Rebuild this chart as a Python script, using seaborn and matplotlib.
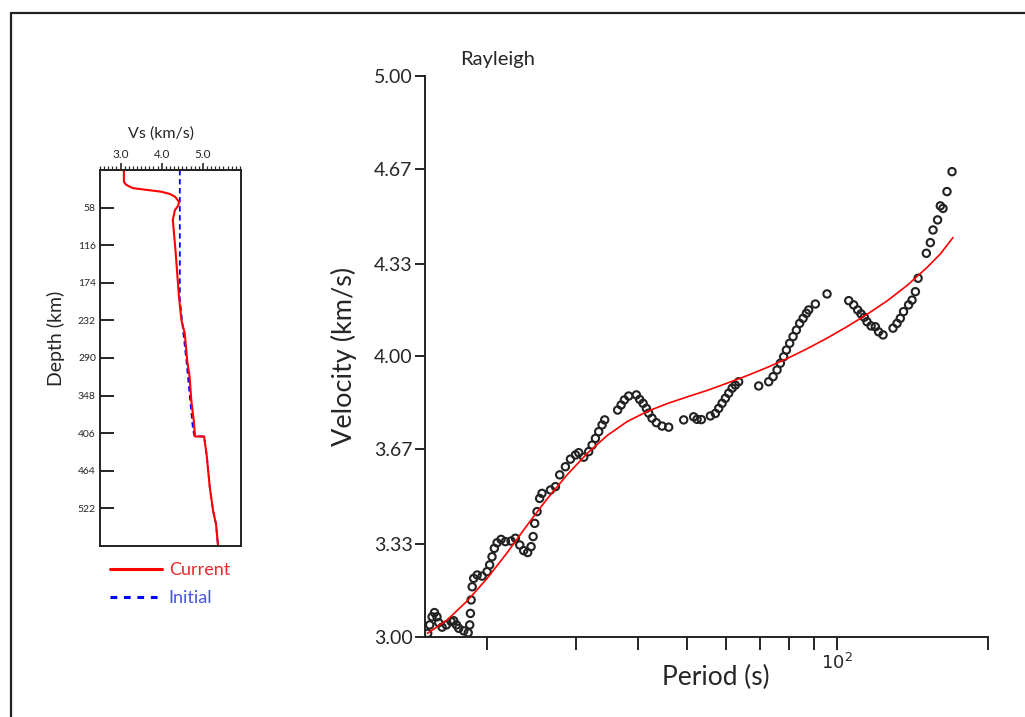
import numpy as np
import pandas as pd
import matplotlib
matplotlib.use("Agg")
import matplotlib.pyplot as plt
from matplotlib.lines import Line2D
import seaborn as sns

# observed Rayleigh dispersion (period s, group velocity km/s)
obs_period = [15.19, 15.33, 15.50, 15.67, 15.85, 15.98, 16.23, 16.55, 16.92, 17.12,
              17.34, 17.52, 17.93, 18.30, 18.43, 18.49, 18.55, 18.64, 18.77, 19.07,
              19.51, 19.96, 20.20, 20.42, 20.64, 20.90, 21.29, 21.72, 22.29, 22.74,
              23.20, 23.62, 24.06, 24.44, 24.67, 24.85, 25.12, 25.42, 25.70, 26.72,
              27.34, 27.88, 28.62, 29.29, 29.98, 30.43, 31.14, 31.86, 32.36, 32.86,
              33.36, 33.88, 34.29, 36.40, 36.98, 37.54, 38.29, 39.67, 40.28, 40.92,
              41.54, 41.99, 42.64, 43.49, 44.65, 46.03, 49.32, 51.63, 52.45, 53.50,
              55.76, 57.06, 57.94, 58.85, 59.75, 60.67, 61.63, 62.55, 63.51, 69.64,
              72.92, 74.41, 75.78, 76.94, 78.12, 79.10, 80.31, 81.57, 82.82, 84.09,
              85.42, 86.72, 87.64, 90.38, 95.37, 105.4, 107.8, 109.8, 111.5, 113.2,
              114.6, 116.8, 119.1, 120.9, 123.4, 129.2, 131.6, 133.6, 135.6, 138.8,
              141.0, 143.2, 145.0, 150.6, 153.4, 155.3, 158.6, 160.6, 162.6, 165.6,
              169.5]
obs_velocity = [3.013, 3.043, 3.072, 3.087, 3.072, 3.051, 3.035, 3.043, 3.055, 3.058,
                3.043, 3.031, 3.022, 3.015, 3.043, 3.084, 3.132, 3.179, 3.209, 3.221,
                3.217, 3.233, 3.257, 3.286, 3.316, 3.336, 3.348, 3.340, 3.342, 3.352,
                3.328, 3.308, 3.301, 3.322, 3.358, 3.405, 3.447, 3.494, 3.512, 3.524,
                3.536, 3.578, 3.607, 3.634, 3.649, 3.657, 3.641, 3.661, 3.684, 3.708,
                3.732, 3.756, 3.774, 3.809, 3.827, 3.845, 3.859, 3.863, 3.847, 3.833,
                3.815, 3.798, 3.780, 3.764, 3.752, 3.748, 3.774, 3.785, 3.776, 3.775,
                3.788, 3.797, 3.815, 3.833, 3.851, 3.869, 3.887, 3.898, 3.910, 3.895,
                3.910, 3.928, 3.952, 3.976, 3.999, 4.023, 4.047, 4.071, 4.094, 4.118,
                4.136, 4.154, 4.166, 4.187, 4.223, 4.199, 4.184, 4.166, 4.152, 4.140,
                4.124, 4.109, 4.106, 4.088, 4.077, 4.101, 4.118, 4.136, 4.160, 4.184,
                4.201, 4.231, 4.279, 4.368, 4.406, 4.451, 4.487, 4.537, 4.528, 4.588,
                4.659]

# predicted dispersion of the current model
fit_period = [15.17, 16.60, 18.20, 19.95, 21.88, 23.99, 26.30, 28.84, 31.62, 34.67,
              38.02, 41.69, 45.71, 50.12, 54.95, 60.26, 66.07, 72.44, 79.43, 87.10,
              95.50, 104.7, 114.8, 125.9, 138.0, 151.4, 160.7, 170.2]
fit_velocity = [3.013, 3.060, 3.128, 3.208, 3.300, 3.398, 3.492, 3.578, 3.654, 3.718,
                3.768, 3.804, 3.832, 3.856, 3.879, 3.905, 3.932, 3.961, 3.993, 4.028,
                4.066, 4.107, 4.151, 4.199, 4.254, 4.319, 4.366, 4.424]

# shear velocity profiles
cur_depth = [0, 18, 22, 25, 28, 30, 33.5, 37, 41, 45, 49, 55, 62, 77, 128, 196, 232,
             252, 294, 320, 356, 387, 411, 411, 438, 490, 526, 546, 580]
cur_vs = [3.08, 3.08, 3.12, 3.20, 3.30, 3.55, 3.99, 4.20, 4.32, 4.37, 4.42, 4.40, 4.32,
          4.27, 4.34, 4.42, 4.48, 4.56, 4.62, 4.68, 4.72, 4.78, 4.81, 5.03, 5.09, 5.17,
          5.25, 5.32, 5.37]
init_depth = [0, 200, 300, 400, 411, 411, 438, 490, 526, 546, 580]
init_vs = [4.44, 4.44, 4.61, 4.76, 4.80, 5.03, 5.09, 5.17, 5.25, 5.32, 5.37]

depth_ticks = [58, 116, 174, 232, 290, 348, 406, 464, 522]
vel_ticks = [3.00, 3.33, 3.67, 4.00, 4.33, 4.67, 5.00]
period_ticks = [20, 30, 40, 50, 60, 70, 80, 90, 100, 200]

sns.set_style("ticks")
plt.rcParams['font.family'] = ['Lato', 'DejaVu Sans']
plt.rcParams['axes.linewidth'] = 1.4
plt.rcParams['axes.edgecolor'] = '#222222'

fig = plt.figure(figsize=(10.25, 7.17), dpi=100)

###############################################################################
# Vs profile
###############################################################################
ax1 = fig.add_axes([0.0976, 0.2385, 0.1376, 0.5244])
prof_init = pd.DataFrame({'vs': init_vs, 'depth': init_depth})
prof_cur = pd.DataFrame({'vs': cur_vs, 'depth': cur_depth})
sns.lineplot(data=prof_init, x='vs', y='depth', sort=False, estimator=None,
             color='blue', linestyle=(0, (3, 2)), linewidth=1.3, ax=ax1, label='Initial')
sns.lineplot(data=prof_cur, x='vs', y='depth', sort=False, estimator=None,
             color='red', linewidth=1.5, ax=ax1, label='Current')
ax1.set_xlim(2.5, 5.93)
ax1.set_ylim(580, 0)
ax1.xaxis.tick_top()
ax1.xaxis.set_label_position('top')
ax1.set_xticks([3.0, 4.0, 5.0], labels=['3.0', '4.0', '5.0'])
ax1.set_xticks(np.arange(2.5, 5.95, 0.1), minor=True)
ax1.tick_params(axis='x', which='major', direction='out', length=5, width=1.2,
                labelsize=8.5, pad=2)
ax1.tick_params(axis='x', which='minor', direction='out', length=3, width=0.9)
ax1.set_yticks(depth_ticks, labels=[str(d) for d in depth_ticks])
ax1.tick_params(axis='y', direction='in', length=10, width=1.4, labelsize=7.5, pad=3)
ax1.set_xlabel('Vs (km/s)', fontsize=11.5)
ax1.set_ylabel('Depth (km)', fontsize=14)
ax1.xaxis.set_label_coords(0.433, 1.087)
ax1.yaxis.set_label_coords(-0.25, 0.553)
for s in ax1.spines.values():
    s.set_visible(True)
ax1.get_legend().remove()
handles = [Line2D([], [], color='red', linewidth=2.2),
           Line2D([], [], color='blue', linewidth=2.2, linestyle=(0, (2.2, 2.2)))]
fig.legend(handles, ['Current', 'Initial'], loc='upper left',
           bbox_to_anchor=(0.1073, 0.216), frameon=False, fontsize=13,
           labelcolor=['#e8282c', '#4455dd'], handlelength=2.9, handletextpad=0.35,
           borderpad=0, borderaxespad=0, labelspacing=0.68)

###############################################################################
# Dispersion curve
###############################################################################
ax2 = fig.add_axes([0.4146, 0.1116, 0.5493, 0.7824])
obs = pd.DataFrame({'period': obs_period, 'velocity': obs_velocity})
fit = pd.DataFrame({'period': fit_period, 'velocity': fit_velocity})
sns.scatterplot(data=obs, x='period', y='velocity', marker='o', s=28,
                facecolors='none', edgecolor='#222222', linewidth=1.5, ax=ax2)
sns.lineplot(data=fit, x='period', y='velocity', color='red', linewidth=1.2, ax=ax2)
ax2.set_xscale('log')
ax2.set_xlim(15, 200)
ax2.set_ylim(3.0, 5.0)
ax2.set_xticks(period_ticks, labels=['$10^2$' if p == 100 else '' for p in period_ticks])
ax2.xaxis.set_minor_locator(matplotlib.ticker.NullLocator())
ax2.set_yticks(vel_ticks, labels=['%.2f' % v for v in vel_ticks])
ax2.tick_params(axis='x', direction='out', length=9, width=1.4, labelsize=13, pad=2)
ax2.tick_params(axis='y', direction='out', length=7, width=1.4, labelsize=14, pad=2)
sns.despine(ax=ax2)
ax2.set_xlabel('Period (s)', fontsize=19)
ax2.set_ylabel('Velocity (km/s)', fontsize=19.5)
ax2.xaxis.set_label_coords(0.517, -0.05)
ax2.yaxis.set_label_coords(-0.12, 0.5)
ax2.text(0.062, 1.03, 'Rayleigh', transform=ax2.transAxes, ha='left', va='center',
         fontsize=14.5)

# page frame
fig.add_artist(Line2D([0.0107, 1.0], [0.9819, 0.9819], color='#222222', linewidth=1.6,
                      transform=fig.transFigure))
fig.add_artist(Line2D([0.0107, 0.0107], [0.0, 0.9819], color='#222222', linewidth=1.6,
                      transform=fig.transFigure))

fig.savefig('out.png', dpi=100)
